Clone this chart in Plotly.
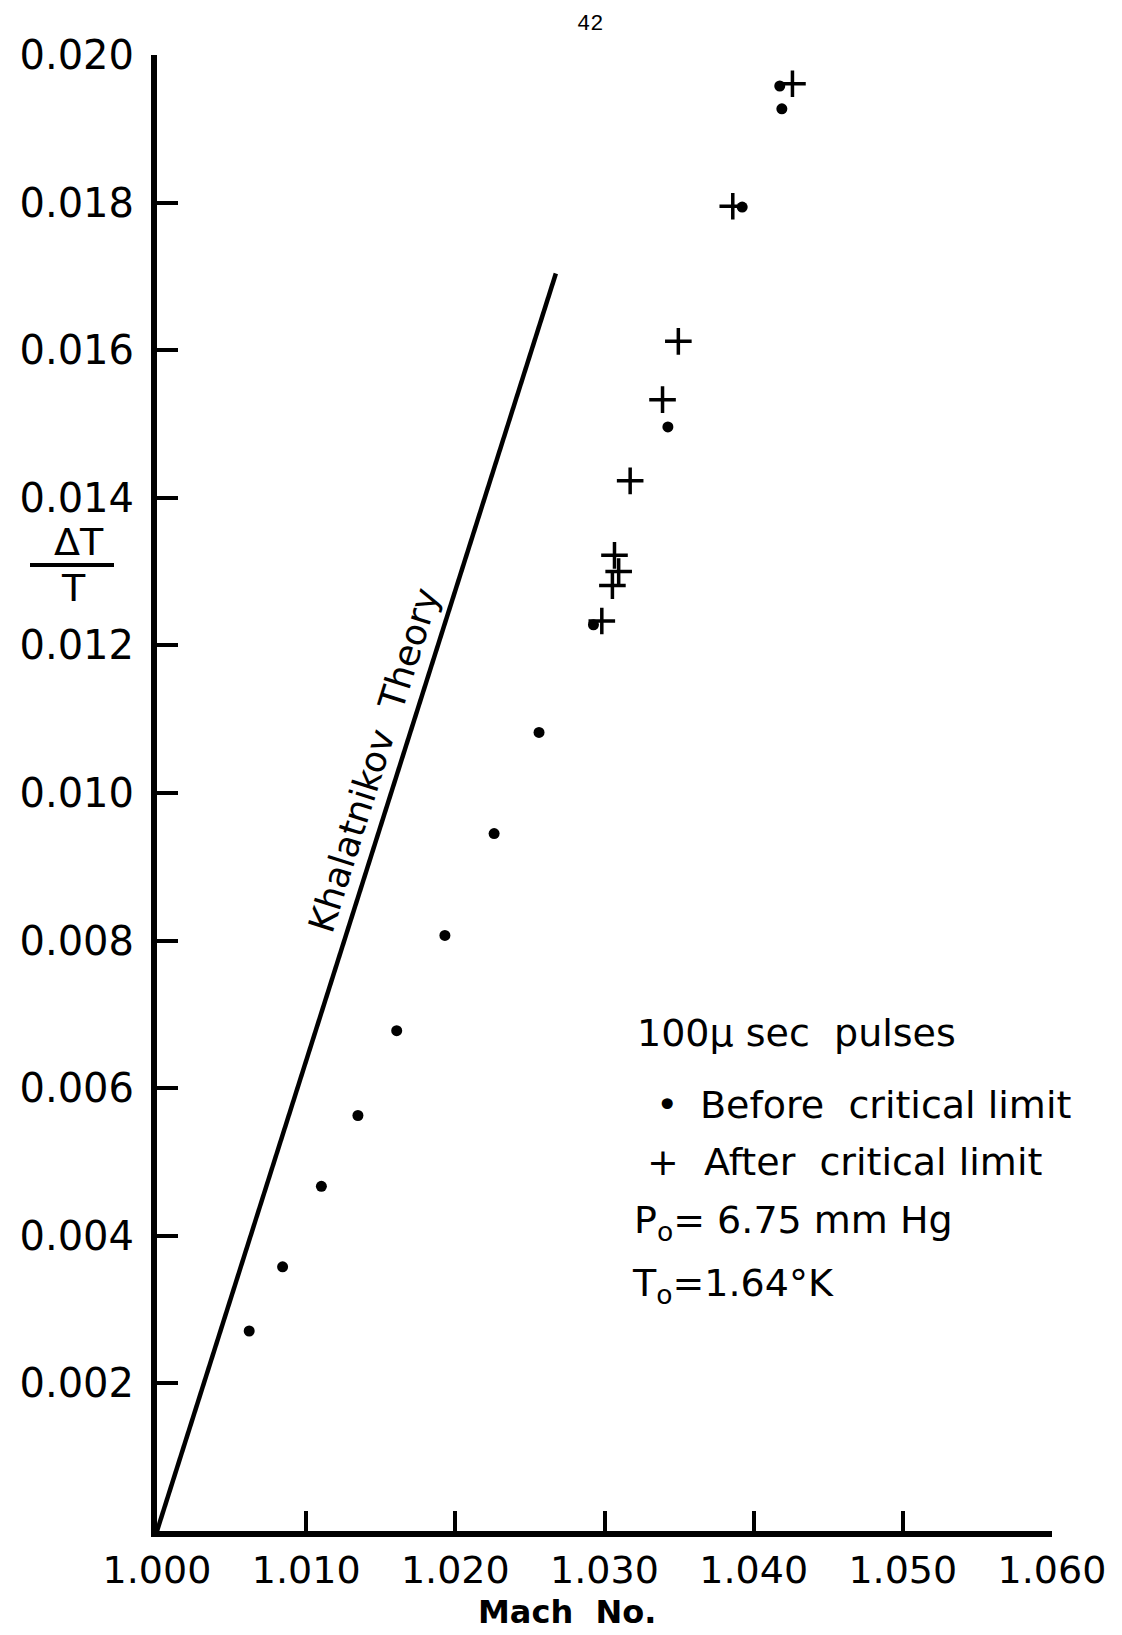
import plotly.graph_objects as go

# ---- data ----
before_mach = [1.00618, 1.00842, 1.01102, 1.01347, 1.01607, 1.01930, 1.02260,
               1.02561, 1.02926, 1.03425, 1.03923, 1.04189, 1.04175]
before_dtt = [0.00271, 0.00358, 0.00467, 0.00563, 0.00678, 0.00807, 0.00945,
              0.01082, 0.01228, 0.01496, 0.01794, 0.01927, 0.01958]

after_mach = [1.02982, 1.03053, 1.03095, 1.03067, 1.03172, 1.03389, 1.03495,
              1.03860, 1.04260]
after_dtt = [0.01233, 0.01281, 0.01300, 0.01322, 0.01423, 0.01533, 0.01612,
             0.01795, 0.01961]

theory_mach = [1.000, 1.02674]
theory_dtt = [0.0, 0.01704]

x_ticks = [1.000, 1.010, 1.020, 1.030, 1.040, 1.050, 1.060]
x_tick_text = ["1.000", "1.010", "1.020", "1.030", "1.040", "1.050", "1.060"]
y_ticks = [0.002, 0.004, 0.006, 0.008, 0.010, 0.012, 0.014, 0.016, 0.018, 0.020]
y_tick_text = ["0.002", "0.004", "0.006", "0.008", "0.010", "0.012", "0.014",
               "0.016", "0.018", "0.020"]

W, H = 1122, 1635
L, R, T, B = 157, 70, 55, 104
FONT = "DejaVu Sans"


def px(xp):
    return (xp - L) / (W - L - R)


def py(yp):
    return (H - B - yp) / (H - T - B)


fig = go.Figure()
fig.add_trace(go.Scatter(x=theory_mach, y=theory_dtt, mode="lines",
                         line=dict(color="black", width=4.5), showlegend=False))
fig.add_trace(go.Scatter(x=before_mach, y=before_dtt, mode="markers",
                         marker=dict(symbol="circle", size=11, color="black"),
                         showlegend=False))
fig.add_trace(go.Scatter(x=after_mach, y=after_dtt, mode="markers",
                         marker=dict(symbol="cross-thin", size=19,
                                     line=dict(color="black", width=3.5)),
                         showlegend=False))

ann = []
# Theory label
ann.append(dict(x=1.01453, y=0.01044, xref="x", yref="y", text="Khalatnikov  Theory",
                textangle=-72.5, showarrow=False, xanchor="center", yanchor="middle",
                font=dict(family=FONT, size=36, color="black")))


def text_at(xp, yp, text, size=38, anchor="left", family=FONT, weight="normal"):
    ann.append(dict(x=px(xp), y=py(yp), xref="paper", yref="paper", text=text,
                    xanchor=anchor, yanchor="middle", showarrow=False,
                    font=dict(family=family, size=size, color="black", weight=weight)))


# legend block
text_at(635, 1033, "100μ sec  pulses")
text_at(667, 1105, "•", anchor="center")
text_at(698, 1105, "Before  critical limit")
text_at(663, 1162, "+", anchor="center")
text_at(702, 1162, "After  critical limit")
text_at(632, 1222, "P<sub>o</sub>= 6.75 mm Hg")
text_at(630, 1285, "T<sub>o</sub>=1.64°K")

# y label as a fraction
text_at(79, 542, "ΔT", anchor="center")
text_at(73, 588, "T", anchor="center")
# x title
text_at(567, 1612, "Mach  No.", size=32, anchor="center", weight="bold")
# page number
text_at(590, 24, "42", size=22, anchor="center", family="Liberation Mono")

shapes = [dict(type="line", xref="paper", yref="paper", x0=px(30), x1=px(114),
               y0=py(565), y1=py(565), line=dict(color="black", width=4))]

fig.update_layout(
    width=W, height=H,
    margin=dict(l=L, r=R, t=T, b=B),
    paper_bgcolor="white", plot_bgcolor="white",
    annotations=ann, shapes=shapes,
    xaxis=dict(range=[1.0, 1.06], tickvals=x_ticks, ticktext=x_tick_text,
               showgrid=False, zeroline=False, showline=True, linecolor="black",
               linewidth=6, ticks="inside", ticklen=20, tickwidth=4, tickcolor="black",
               ticklabelstandoff=0,
               tickfont=dict(family=FONT, size=38, color="black")),
    yaxis=dict(range=[0.0, 0.020], tickvals=y_ticks, ticktext=y_tick_text,
               showgrid=False, zeroline=False, showline=True, linecolor="black",
               linewidth=6, ticks="inside", ticklen=21, tickwidth=4, tickcolor="black",
               ticklabelstandoff=9,
               tickfont=dict(family=FONT, size=40, color="black")),
)

fig.write_html("out.html")
